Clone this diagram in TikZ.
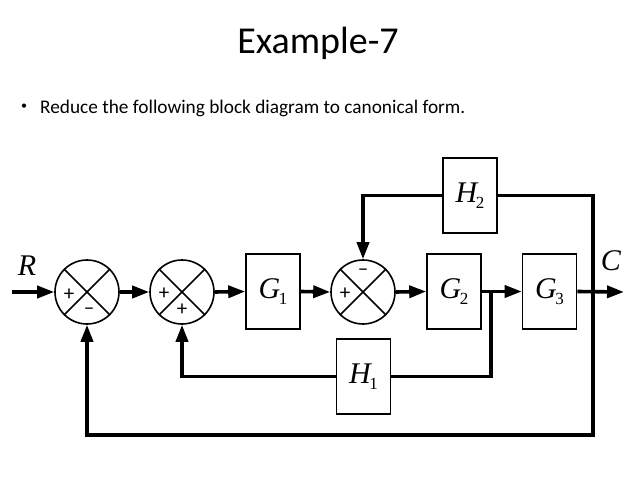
\documentclass[tikz,border=0pt]{standalone}
\usepackage{fontspec}
\setmainfont{Carlito}
\newfontfamily\tmsfont{Liberation Serif}
\usetikzlibrary{shapes,arrows.meta}
\tikzstyle{blk} = [rectangle,draw,line width=1.6pt,minimum width=54pt,minimum height=75pt,inner sep=0pt,font=\tmsfont\fontsize{30}{30}\selectfont\itshape]
\newcommand{\tf}[2]{#1\kern-1.5pt\raisebox{-6pt}{\fontsize{17}{17}\selectfont\upshape #2}}

\begin{document}
\begin{tikzpicture}
		[x=1pt,y=-1pt,
		summer/.style={
		draw,
		circle,
		line width=1.6pt,
		minimum size=64pt,
		inner sep=0pt},
		sig/.style={font=\fontsize{21}{21}\selectfont,inner sep=0pt},
		line/.style={line width=3.6pt},
		arr/.style={line width=3.6pt,-{Triangle[length=17pt,width=12pt]}}
		]
		\useasboundingbox (0,0) rectangle (638,479);
		\node[font=\fontsize{38}{38}\selectfont,anchor=base](title) at (318,53) {Example-7};
		\node[font=\fontsize{12}{12}\selectfont](dot) at (24,107) {\textbullet};
		\node[font=\fontsize{19.3}{19.3}\selectfont,anchor=base west,inner sep=0pt](task) at (40,113.5) {Reduce the following block diagram to canonical form.};
		
		\coordinate (in) at (12,292);
		\node[summer](sum1) at (87,292) {};
		\node[summer](sum2) at (182,292) {};
		\node[blk](g1) at (273,291.5) {\tf{G}{1}};
		\node[summer](sum3) at (363,292) {};
		\node[blk](g2) at (454,291.5) {\tf{G}{2}};
		\node[blk](g3) at (549.5,291.5) {\tf{G}{3}};
		\node[blk](h2) at (470,195.5) {\tf{H}{2}};
		\node[blk](h1) at (363.5,376.5) {\tf{H}{1}};
		\coordinate (branch) at (491,292);
		\coordinate (tap) at (593,292);
		\coordinate (out) at (624,292);
		\coordinate (bottom) at (593,435);
		
		\foreach \s in {sum1,sum2,sum3} {
			\draw[line width=1.6pt] (\s.north west) -- (\s.south east);
			\draw[line width=1.6pt] (\s.north east) -- (\s.south west);
		}
		\node[sig] at (69,295) {+};
		\node[sig] at (89,311) {–};
		\node[sig] at (164,294) {+};
		\node[sig] at (182,310) {+};
		\node[sig] at (345,294) {+};
		\node[sig] at (363,272) {–};
		\node[font=\tmsfont\fontsize{30}{30}\selectfont\itshape](r) at (27,266) {R};
		\node[font=\tmsfont\fontsize{30}{30}\selectfont\itshape](c) at (611,261) {C};
		
		\draw[arr] (in) -- (sum1.west);
		\draw[arr] (sum1.east) -- (sum2.west);
		\draw[arr] (sum2.east) -- (g1.west);
		\draw[arr] (g1.east) -- (sum3.west);
		\draw[arr] (sum3.east) -- (g2.west);
		\draw[arr] (g2.east) -- (g3.west);
		\draw[arr] (g3.east) -- (out);
		\draw[line,line join=miter] (branch) |- (h1.east);
		\draw[arr] (h1.west) -| (sum2.south);
		\draw[line] (tap) |- (h2.east);
		\draw[arr] (h2.west) -| (sum3.north);
		\draw[arr] (tap) -- (bottom) -| (sum1.south);
		\end{tikzpicture}
\end{document}
